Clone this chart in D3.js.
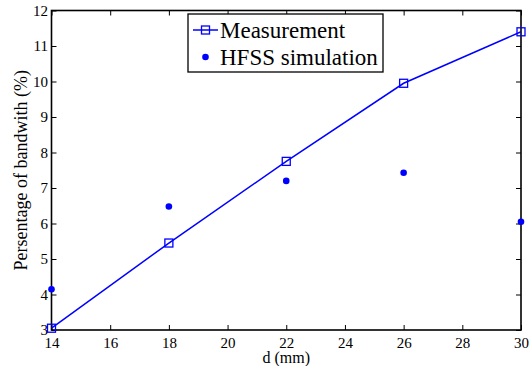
<!DOCTYPE html>
<html>
<head>
<meta charset="utf-8">
<script src="https://cdn.jsdelivr.net/npm/d3@7"></script>
<style>
  body { margin: 0; background: #fff; }
</style>
</head>
<body>
<svg id="chart" width="529" height="366"></svg>
<script>
// data
const distances = [14, 18, 22, 26, 30];
const measured = [3.05, 5.45, 7.75, 9.95, 11.4];
const simulated = [4.15, 6.48, 7.2, 7.43, 6.05];
const xTicks = [14, 16, 18, 20, 22, 24, 26, 28, 30];
const yTicks = [3, 4, 5, 6, 7, 8, 9, 10, 11, 12];

const FONT = 'Liberation Serif, Tinos, DejaVu Serif, Times New Roman, serif';
const W = 529, H = 366;
const m = {left: 51.5, right: 8, top: 10.5, bottom: 36};
const svg = d3.select('#chart');
const iw = W - m.left - m.right, ih = H - m.top - m.bottom;
const g = svg.append('g').attr('transform', `translate(${m.left},${m.top})`);

const x = d3.scaleLinear().domain([14, 30]).range([0, iw]);
const y = d3.scaleLinear().domain([3, 12]).range([ih, 0]);

function styleAxis(a) {
  a.attr('font-family', null).attr('font-size', null);
  a.select('.domain').remove();
  a.selectAll('text').attr('fill', '#000')
    .style('font-family', FONT).style('font-size', '15px');
  a.selectAll('line').attr('stroke', '#000');
}

/* ticks inward on all four sides */
const tickLen = 5;
g.append('g').attr('transform', `translate(0,${ih})`)
  .call(d3.axisBottom(x).tickValues(xTicks).tickSize(-tickLen).tickPadding(7))
  .call(styleAxis);
g.append('g')
  .call(d3.axisTop(x).tickValues(xTicks).tickSize(-tickLen).tickFormat(''))
  .call(styleAxis);
g.append('g')
  .call(d3.axisLeft(y).tickValues(yTicks).tickSize(-tickLen).tickPadding(3.5))
  .call(styleAxis);
g.append('g').attr('transform', `translate(${iw},0)`)
  .call(d3.axisRight(y).tickValues(yTicks).tickSize(-tickLen).tickFormat(''))
  .call(styleAxis);

g.append('rect').attr('width', iw).attr('height', ih)
  .attr('fill', 'none').attr('stroke', '#000').attr('stroke-width', 1.6);

const blue = '#0000ff';
const line = d3.line().x(d => x(d[0])).y(d => y(d[1]));
const mPts = distances.map((d, i) => [d, measured[i]]);
const sPts = distances.map((d, i) => [d, simulated[i]]);

g.append('path').datum(mPts).attr('d', line)
  .attr('fill', 'none').attr('stroke', blue).attr('stroke-width', 1.5);
g.selectAll('.sq').data(mPts).enter().append('rect')
  .attr('x', d => x(d[0]) - 4).attr('y', d => y(d[1]) - 4)
  .attr('width', 8).attr('height', 8)
  .attr('fill', 'none').attr('stroke', blue).attr('stroke-width', 1.3);
g.selectAll('.dot').data(sPts).enter().append('circle')
  .attr('cx', d => x(d[0])).attr('cy', d => y(d[1])).attr('r', 3.3)
  .attr('fill', blue);

/* legend */
const lg = svg.append('g').attr('transform', 'translate(188,14)');
lg.append('rect').attr('width', 195).attr('height', 58)
  .attr('fill', '#fff').attr('stroke', '#000').attr('stroke-width', 1.3);
lg.append('line').attr('x1', 5).attr('x2', 30).attr('y1', 16).attr('y2', 16)
  .attr('stroke', blue).attr('stroke-width', 1.5);
lg.append('rect').attr('x', 13.5).attr('y', 12).attr('width', 8).attr('height', 8)
  .attr('fill', 'none').attr('stroke', blue).attr('stroke-width', 1.3);
lg.append('circle').attr('cx', 17.5).attr('cy', 43).attr('r', 3.3).attr('fill', blue);
lg.append('text').attr('x', 32).attr('y', 24)
  .style('font-family', FONT).style('font-size', '23px').text('Measurement');
lg.append('text').attr('x', 32).attr('y', 51)
  .style('font-family', FONT).style('font-size', '23px').text('HFSS simulation');

/* axis titles */
svg.append('text').attr('x', m.left + iw / 2).attr('y', 363)
  .style('font-family', FONT).style('font-size', '16px')
  .attr('text-anchor', 'middle').text('d (mm)');
svg.append('text')
  .attr('transform', `translate(27,${m.top + ih / 2}) rotate(-90)`)
  .style('font-family', FONT).style('font-size', '18px')
  .attr('text-anchor', 'middle').text('Persentage of bandwith (%)');
</script>
</body>
</html>
